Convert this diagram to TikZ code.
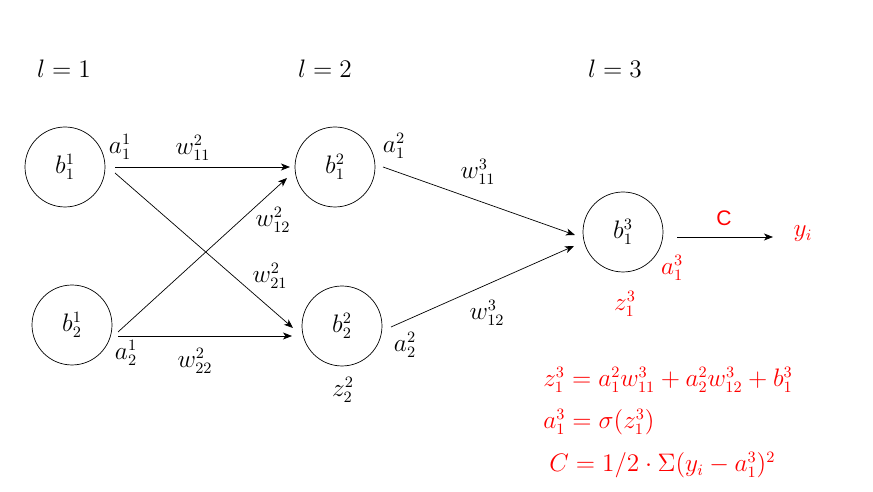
\documentclass[tikz,border=0pt]{standalone}
\usepackage{fontspec}
\newfontfamily\labelfont{Liberation Sans}
\usetikzlibrary{calc,arrows.meta}

\begin{document}
\begin{tikzpicture}[x=0.02cm, y=-0.02cm, >={Stealth[length=1.8mm,width=1.4mm,inset=0.5mm]},
    font=\fontsize{13.5}{16}\selectfont,
    neuron/.style={circle, draw, minimum size=1.6cm, inner sep=0pt}]
    \useasboundingbox (0,0) rectangle (873,492);

    % layers
    \node (l1) at (64,69) {$l=1$};
    \node (l2) at (325,69) {$l=2$};
    \node (l3) at (615,69) {$l=3$};

    \node[neuron] (b11) at (65,167) {$b^1_1$};
    \node[neuron] (b21) at (72,325) {$b^1_2$};
    \node[neuron] (b12) at (335,167) {$b^2_1$};
    \node[neuron] (b22) at (342,326) {$b^2_2$};
    \node[neuron] (b13) at (623,232) {$b^3_1$};
    \node[red] (y) at (803,234) {$y_i$};

    % weights
    \draw[->] ($(b11)+(50,0)$) -- ($(b12)+(-45,0)$);
    \draw[->] ($(b11)+(50,6)$) -- ($(b22)+(-49,2)$);
    \draw[->] ($(b21)+(46,7)$) -- ($(b12)+(-48,11)$);
    \draw[->] ($(b21)+(46,11)$) -- ($(b22)+(-50,10)$);
    \draw[->] ($(b12)+(48,0)$) -- ($(b13)+(-48,3)$);
    \draw[->] ($(b22)+(49,1)$) -- ($(b13)+(-49,14)$);
    \draw[->] ($(b13)+(54,5)$) -- ($(y)+(-30,3)$);

    \node (a11) at (120,147) {$a^1_1$};
    \node (a12) at (126,353) {$a^1_2$};
    \node (a21) at (394,146) {$a^2_1$};
    \node (a22) at (405,345) {$a^2_2$};
    \node (z22) at (343,390) {$z^2_2$};
    \node (w211) at (193,148) {$w^2_{11}$};
    \node (w212) at (273,220) {$w^2_{12}$};
    \node (w221) at (270,276) {$w^2_{21}$};
    \node (w222) at (195,361) {$w^2_{22}$};
    \node (w311) at (478,172) {$w^3_{11}$};
    \node (w312) at (487,313) {$w^3_{12}$};

    % output
    \node[red] (a13) at (672,268) {$a^3_1$};
    \node[red] (z13) at (625,304) {$z^3_1$};
    \node[red, font=\labelfont\fontsize{12}{14}\selectfont] (C) at (724,218) {C};

    \node[red, anchor=west, inner sep=0pt] (eq1) at (543,380) {$z^3_1=a^2_1w^3_{11}+a^2_2w^3_{12}+b^3_1$};
    \node[red, anchor=west, inner sep=0pt] (eq2) at (543,422) {$a^3_1=\sigma(z^3_1)$};
    \node[red, anchor=west, inner sep=0pt] (eq3) at (549,465) {$C=1/2\cdot\Sigma(y_i-a^3_1)^2$};
\end{tikzpicture}
\end{document}
